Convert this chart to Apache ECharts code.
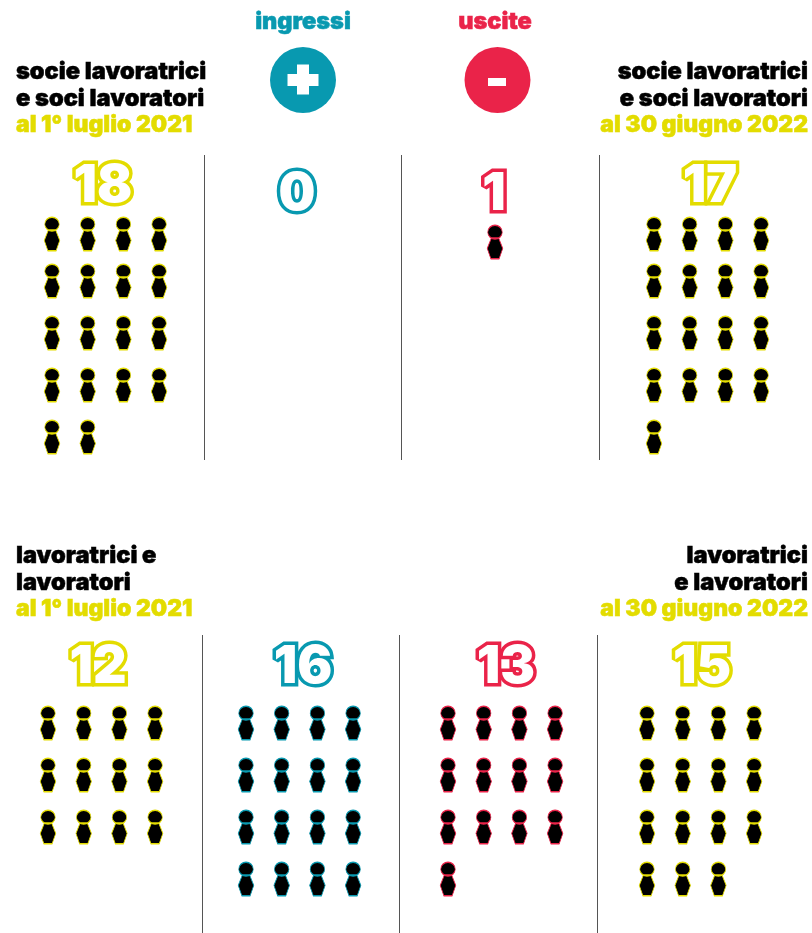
<!DOCTYPE html>
<html><head><meta charset="utf-8">
<style>html,body{margin:0;padding:0;background:#fff}#c{width:812px;height:933px}</style>
<script src="https://cdn.jsdelivr.net/npm/echarts@6/dist/echarts.min.js"></script>
</head><body><div id="c"></div>
<script>
// ---- data
const flowLabels = ['ingressi', 'uscite'];
const memberValues = [18, 0, 1, 17];
const workerValues = [12, 16, 13, 15];
const startMemberLines = ['socie lavoratrici', 'e soci lavoratori', 'al 1° luglio 2021'];
const endMemberLines = ['socie lavoratrici', 'e soci lavoratori', 'al 30 giugno 2022'];
const startWorkerLines = ['lavoratrici e', 'lavoratori', 'al 1° luglio 2021'];
const endWorkerLines = ['lavoratrici', 'e lavoratori', 'al 30 giugno 2022'];

// ---- styling / layout
const YELLOW = '#E3DC00', TEAL = '#0899B0', RED = '#EA2349', FONT = 'Inter';
const PERSON = 'path://M7.5 0A7 7 0 1 1 7.5 14A7 7 0 1 1 7.5 0ZM4 13L11 13L15 23.5L11.5 34L3.5 34L0 23.5Z';
const COLS = 4, DX = 35.7, DY = 52;
const panels = [
  {v: memberValues[0], color: YELLOW, x: 52, y: 229, nudge: 5, nx: 103, ny: 186},
  {v: memberValues[1], color: TEAL, x: 246, y: 242, nudge: 0, nx: 297, ny: 194},
  {v: memberValues[2], color: RED, x: 495, y: 242, nudge: 0, nx: 494, ny: 194},
  {v: memberValues[3], color: YELLOW, x: 654, y: 229, nudge: 5, nx: 710, ny: 186},
  {v: workerValues[0], color: YELLOW, x: 48, y: 723, nudge: 0, nx: 98, ny: 667},
  {v: workerValues[1], color: TEAL, x: 246, y: 723, nudge: 0, nx: 303, ny: 667},
  {v: workerValues[2], color: RED, x: 448, y: 723, nudge: 0, nx: 506, ny: 667},
  {v: workerValues[3], color: YELLOW, x: 647, y: 723, nudge: 0, nx: 702, ny: 667}
];
const grids = [], xAxes = [], yAxes = [], series = [], graphic = [];
panels.forEach((p, i) => {
  grids.push({left: p.x, top: p.y, width: DX * (COLS - 1), height: DY * 4});
  xAxes.push({type: 'value', gridIndex: i, min: 0, max: COLS - 1, show: false});
  yAxes.push({type: 'value', gridIndex: i, min: 0, max: 4, inverse: true, show: false});
  const data = [];
  for (let k = 0; k < p.v; k++) {
    const r = Math.floor(k / COLS);
    const item = {value: [k % COLS, r]};
    if (r === 0 && p.nudge) item.symbolOffset = [0, p.nudge];
    data.push(item);
  }
  series.push({
    type: 'scatter', xAxisIndex: i, yAxisIndex: i, silent: true, clip: false,
    symbol: PERSON, symbolSize: [15.5, 33.5],
    itemStyle: {color: '#000', borderColor: p.color, borderWidth: 1, opacity: 1},
    data
  });
  graphic.push({
    type: 'text', x: p.nx, y: p.ny, z: 5, silent: true,
    style: {
      text: String(p.v), fill: '#fff', stroke: p.color, lineWidth: 7,
      font: '900 52px ' + FONT, textAlign: 'center', textVerticalAlign: 'middle'
    }
  });
});
function block(lines, x, y0, step, align) {
  lines.forEach((t, i) => graphic.push({
    type: 'text', x, y: y0 + i * step, silent: true,
    style: {
      text: t, fill: i === 2 ? YELLOW : '#000', stroke: i === 2 ? YELLOW : '#000', lineWidth: 0.5,
      font: '900 ' + (i === 2 ? 23 : 23.6) + 'px ' + FONT, textAlign: align, textVerticalAlign: 'middle'
    }
  }));
}
block(startMemberLines, 16, 72, 26.5, 'left');
block(endMemberLines, 808, 72, 26.5, 'right');
block(startWorkerLines, 16, 556, 26.5, 'left');
block(endWorkerLines, 808, 556, 26.5, 'right');
[[flowLabels[0], 303, TEAL], [flowLabels[1], 495, RED]].forEach(([t, x, c]) => graphic.push({
  type: 'text', x, y: 22, silent: true,
  style: {text: t, fill: c, stroke: c, lineWidth: 0.5, font: '900 23.5px ' + FONT, textAlign: 'center', textVerticalAlign: 'middle'}
}));
graphic.push({type: 'circle', shape: {cx: 303, cy: 80, r: 33}, style: {fill: TEAL}, silent: true});
graphic.push({type: 'rect', shape: {x: 287.5, y: 74, width: 31, height: 12}, style: {fill: '#fff'}, silent: true});
graphic.push({type: 'rect', shape: {x: 297, y: 64.5, width: 12, height: 30}, style: {fill: '#fff'}, silent: true});
graphic.push({type: 'circle', shape: {cx: 497.5, cy: 80, r: 33}, style: {fill: RED}, silent: true});
graphic.push({type: 'rect', shape: {x: 488, y: 78, width: 18, height: 8}, style: {fill: '#fff'}, silent: true});
[[204.5, 155, 460], [401.5, 155, 460], [599.5, 155, 460], [202.5, 635, 933], [399.5, 635, 933], [597.5, 635, 933]].forEach(([x, a, b]) =>
  graphic.push({type: 'line', shape: {x1: x, y1: a, x2: x, y2: b}, style: {stroke: '#555', lineWidth: 1}, silent: true}));

const chart = echarts.init(document.getElementById('c'), null, {renderer: 'canvas'});
chart.setOption({animation: false, backgroundColor: '#fff', grid: grids, xAxis: xAxes, yAxis: yAxes, series, graphic});
</script></body></html>
